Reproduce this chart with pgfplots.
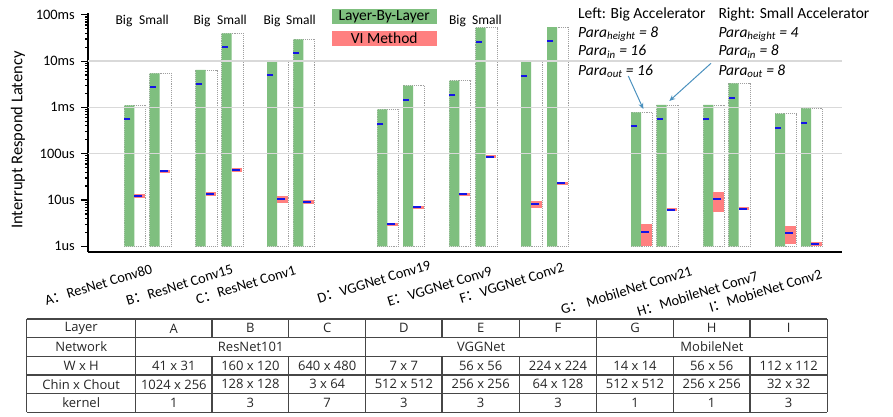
\documentclass[border=0pt]{standalone}
\usepackage{fontspec}
\setmainfont{Carlito}
\newfontfamily\cjk{Noto Sans CJK SC}
\newfontfamily\tabfont{Open Sans}
\usepackage{pgfplots}
\pgfplotsset{compat=1.18}
\usepackage{pgfplotstable}
\usetikzlibrary{arrows.meta}
\definecolor{lblgreen}{RGB}{127,191,127}
\definecolor{vired}{RGB}{255,128,128}
\definecolor{markblue}{RGB}{20,20,230}
\definecolor{arrowblue}{RGB}{75,145,190}
\definecolor{gridgray}{RGB}{217,217,217}
\definecolor{tabline}{RGB}{70,70,70}

% x = left edge of the green bar (layout position), values in microseconds
% top = Layer-By-Layer worst case, bg = Layer-By-Layer average
% lo/hi = VI Method range, br = VI Method average
\pgfplotstableread{
x     top    bg     lo    hi    br
124.3 1110   553    11.2  13.3  12.2
149.7 5450   2718   38.6  45.0  41.7
195.7 6425   3200   12.4  14.9  13.7
221.7 39800  20200  41.2  48.1  44.5
267.0 9900   5010   8.5   12.2  10.35
293.3 29600  14960  8.4   9.8   9.05
377.3 910    438    2.77  3.23  2.99
403.0 2944   1466   6.45  7.52  6.96
449.3 3775   1853   12.3  14.4  13.3
475.7 52600  25500  79.6  92.9  86
521.0 9900   4765   6.72  9.37  8.32
547.0 54500  27200  21.2  24.7  22.9
631.0 783    397    1.03  2.99  2.04
656.7 1127   570    5.71  6.66  6.17
703.3 1127   570    5.42  15.1  10.5
728.7 3315   1620   6.01  7.01  6.49
775.0 731    364    1.14  2.74  1.91
801.0 955    468    1.03  1.26  1.14
}\data

\newcommand\lab{\fontsize{14.4}{17}\selectfont}
\newcommand\ann{\fontsize{15.5}{18}\selectfont}
\newcommand\tab{\tabfont\fontsize{13}{15}\selectfont}

\begin{document}
\begin{tikzpicture}[x=1pt,y=1pt]
\useasboundingbox (0,0) rectangle (893,416);
\begin{axis}[
  at={(88pt,164pt)}, anchor=south west, scale only axis,
  width=754pt, height=239pt,
  xmin=88, xmax=842, ymode=log, ymin=0.753, ymax=109400,
  axis x line=bottom, axis y line=left, axis line style={-},
  x axis line style={line width=2pt},
  y axis line style={line width=1.2pt},
  xtick=\empty,
  ytick={1,10,100,1000,10000,100000},
  yticklabels={1us,10us,100us,1ms,10ms,100ms},
  tick align=outside, major tick length=7pt,
  ytick style={black, line width=1.2pt},
  yticklabel style={font=\lab, inner sep=0pt, xshift=-6pt},
  extra y ticks={100,1000,10000},
  extra y tick labels={},
  extra y tick style={grid=major, major tick length=0pt},
  major grid style={gridgray, line width=1.3pt},
  axis on top,
  clip=false,
]
\addplot[ybar, bar width=21.5pt, bar shift=0pt, log origin y=infty,
  draw=gray!75, line width=0.9pt, densely dotted, fill=white]
  table[x expr=\thisrow{x}+10.75, y=top] {\data};
\addplot[ybar, bar width=10pt, bar shift=0pt, draw=none, fill=lblgreen]
  table[x expr=\thisrow{x}+5, y=top] {\data};
\addplot[draw=none, mark=none,
  error bars/.cd, y dir=both, y explicit, error mark=none,
  error bar style={line width=10.5pt, draw=vired, solid}]
  table[x expr=\thisrow{x}+15.25, y=br,
        y error plus expr=\thisrow{hi}-\thisrow{br},
        y error minus expr=\thisrow{br}-\thisrow{lo}] {\data};
\addplot[only marks, mark=-, mark size=3pt,
  mark options={line width=2pt, draw=markblue}]
  table[x expr=\thisrow{x}+3, y=bg] {\data};
\addplot[only marks, mark=-, mark size=4pt,
  mark options={line width=2pt, draw=markblue}]
  table[x expr=\thisrow{x}+14, y=br] {\data};
\end{axis}

% y label
\node[rotate=90, font=\fontsize{16.5}{19}\selectfont] at (18,276) {Interrupt Respond Latency};

% Big / Small labels
\foreach \bx/\sx in {124/154, 202/232, 272/301, 457.5/487}{
  \node[anchor=base, font=\fontsize{13.5}{15}\selectfont, inner sep=0pt] at (\bx,391) {Big};
  \node[anchor=base, font=\fontsize{13.5}{15}\selectfont, inner sep=0pt] at (\sx,391) {Small};
}

% legend
\fill[lblgreen] (331.7,406.7) rectangle (436.7,392);
\node[font=\ann, inner sep=0pt] at (384.2,399.3) {Layer-By-Layer};
\fill[vired] (331.7,385) rectangle (436.7,370.3);
\node[font=\ann, inner sep=0pt] at (384.2,377.7) {VI Method};

% annotations
\begin{scope}[every node/.style={anchor=base west, inner sep=0pt, font=\ann}]
\node at (578,397.7) {Left: Big Accelerator};
\node at (578,378.7) {\textit{Para\textsubscript{height} = 8}};
\node at (578,360) {\textit{Para\textsubscript{in} = 16}};
\node at (578,341) {\textit{Para\textsubscript{out} = 16}};
\node at (718.3,397.7) {Right: Small Accelerator};
\node at (718.3,378.7) {\textit{Para\textsubscript{height} = 4}};
\node at (718.3,360) {\textit{Para\textsubscript{in} = 8}};
\node at (718.3,341) {\textit{Para\textsubscript{out} = 8}};
\end{scope}
\draw[arrowblue, line width=1pt, -{Stealth[length=6pt,width=5pt]}] (628.3,340) -- (643.3,307);
\draw[arrowblue, line width=1pt, -{Stealth[length=6pt,width=5pt]}] (711,352.7) -- (669.3,315);

% x category labels
\begin{scope}[every node/.style={anchor=base east, rotate=17, inner sep=0pt, font=\lab}]
\node at (153.3,143) {A{\cjk ：}ResNet Conv80};
\node at (234,142.5) {B{\cjk ：}ResNet Conv15};
\node at (296.7,142) {C{\cjk ：}ResNet Conv1};
\node at (431.7,147) {D{\cjk ：}VGGNet Conv19};
\node at (493,141) {E{\cjk ：}VGGNet Conv9};
\node at (565,144.3) {F{\cjk ：}VGGNet Conv2};
\node at (693,141) {G{\cjk ：}\ MobileNet Conv21};
\node at (759,136) {H{\cjk ：}MobileNet Conv7};
\node at (823,138) {I{\cjk ：}MobieNet Conv2};
\end{scope}

% table
\begin{scope}[tabline, line width=1.1pt]
\foreach \yy in {97,78.3,59.7,41,22.3,3.7} \draw (26.7,\yy) -- (827.3,\yy);
\foreach \xx in {26.7,135.7,365.7,596.7,827.3} \draw (\xx,97) -- (\xx,3.7);
\foreach \xx in {212,288.7,442,519.3,673.3,750} {
  \draw (\xx,97) -- (\xx,78.3);
  \draw (\xx,59.7) -- (\xx,3.7);
}
\end{scope}
\begin{scope}[every node/.style={inner sep=0pt, font=\tab, text=black!85}]
\node at (81.2,87.65) {Layer};
\node at (81.2,69) {Network};
\node at (81.2,50.35) {W x H};
\node at (81.2,31.65) {Chin x Chout};
\node at (81.2,13) {kernel};
\foreach \c/\t in {173.85/A, 250.35/B, 327.2/C, 403.85/D, 480.65/E, 558/F, 635/G, 711.65/H, 788.65/I}
  \node at (\c,87.65) {\t};
\node at (250.7,69) {ResNet101};
\node at (481.2,69) {VGGNet};
\node at (712,69) {MobileNet};
\foreach \c/\t in {173.85/41 x 31, 250.35/160 x 120, 327.2/640 x 480, 403.85/7 x 7, 480.65/56 x 56, 558/224 x 224, 635/14 x 14, 711.65/56 x 56, 788.65/112 x 112}
  \node at (\c,50.35) {\t};
\foreach \c/\t in {173.85/1024 x 256, 250.35/128 x 128, 327.2/3 x 64, 403.85/512 x 512, 480.65/256 x 256, 558/64 x 128, 635/512 x 512, 711.65/256 x 256, 788.65/32 x 32}
  \node at (\c,31.65) {\t};
\foreach \c/\t in {173.85/1, 250.35/3, 327.2/7, 403.85/3, 480.65/3, 558/3, 635/1, 711.65/1, 788.65/3}
  \node at (\c,13) {\t};
\end{scope}
\end{tikzpicture}
\end{document}
